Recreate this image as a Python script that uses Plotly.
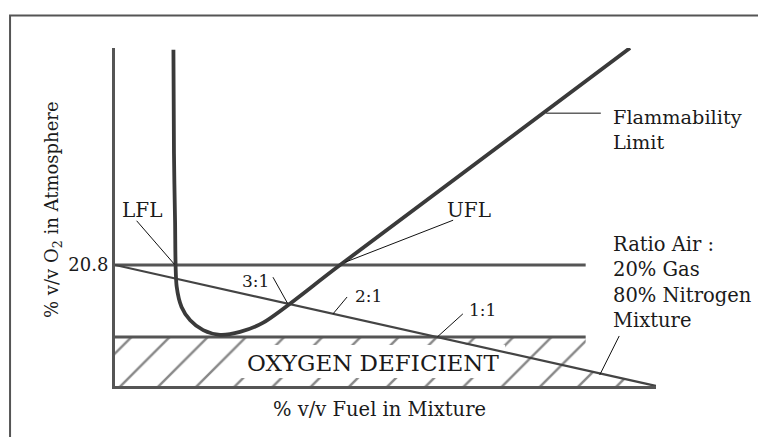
import plotly.graph_objects as go

# ---- data (schematic values) ----
O2_AIR = 20.8            # % O2 in air (horizontal line)
O2_DEFICIENT = 8.42      # top of oxygen deficient zone
FUEL_MAX = 100           # end of dilution line
LINE_END = 87            # end of horizontal lines

# Flammability limit curve (LFL branch -> nose -> UFL branch)
flam_x = [10.8, 10.9, 11.1, 11.4, 12.3, 13.9, 16.3, 19.4, 23.1, 27.4, 41.6, 95.2]
flam_y = [57.8, 40.0, 28.5, 17.1, 13.6, 11.3, 9.6, 8.8, 9.3, 10.9, 20.8, 58.1]

# air / (20% gas + 80% N2) dilution line
dil_x = [0, FUEL_MAX]
dil_y = [O2_AIR, 0]

# hatched oxygen-deficient region
hatch_x = [0, LINE_END, LINE_END, FUEL_MAX, 0, 0]
hatch_y = [O2_DEFICIENT, O2_DEFICIENT, O2_AIR * (1 - LINE_END / FUEL_MAX), 0, 0, O2_DEFICIENT]

y_ticks = [20.8]
y_ticktext = ["20.8"]

# leader lines: (x0, y0, x1, y1)
leaders = [
    (4.0, 28.4, 11.0, 20.9),     # LFL
    (62.5, 28.5, 42.6, 21.3),    # UFL
    (79.7, 46.9, 89.8, 46.9),    # Flammability limit
    (29.2, 18.7, 31.9, 14.2),    # 3:1
    (42.9, 15.3, 40.3, 12.4),    # 2:1
    (64.3, 12.4, 59.6, 8.45),    # 1:1
    (93.2, 8.6, 89.6, 1.9),      # Mixture
]

FONT = "DejaVu Serif"
fig = go.Figure()

# hatched zone
fig.add_trace(go.Scatter(
    x=hatch_x, y=hatch_y, mode="lines", fill="toself",
    line=dict(width=0), fillcolor="white",
    fillpattern=dict(shape="/", fgcolor="#111", bgcolor="white", size=27, solidity=0.09),
    hoverinfo="skip", showlegend=False))
# white label box (leaves only short hatch ticks)
fig.add_trace(go.Scatter(
    x=[23.1, 72.1, 72.1, 23.1, 23.1], y=[1.38, 1.38, 7.05, 7.05, 1.38],
    mode="lines", fill="toself", fillcolor="white", line=dict(width=0),
    hoverinfo="skip", showlegend=False))

# horizontal lines
fig.add_trace(go.Scatter(x=[0, LINE_END], y=[O2_AIR, O2_AIR], mode="lines",
                         line=dict(color="#555", width=3), showlegend=False, hoverinfo="skip"))
fig.add_trace(go.Scatter(x=[0, LINE_END], y=[O2_DEFICIENT, O2_DEFICIENT], mode="lines",
                         line=dict(color="#555", width=3), showlegend=False, hoverinfo="skip"))
# dilution line
fig.add_trace(go.Scatter(x=dil_x, y=dil_y, mode="lines",
                         line=dict(color="#444", width=2.2), showlegend=False, hoverinfo="skip"))
# flammability curve
fig.add_trace(go.Scatter(x=flam_x, y=flam_y, mode="lines",
                         line=dict(color="#3a3a3a", width=3.8, shape="spline", smoothing=0.8),
                         showlegend=False, hoverinfo="skip"))
# leaders
for x0, y0, x1, y1 in leaders:
    fig.add_trace(go.Scatter(x=[x0, x1], y=[y0, y1], mode="lines",
                             line=dict(color="#111", width=1), showlegend=False, hoverinfo="skip"))

def txt(x, y, s, size=18, xanchor="center", yanchor="middle", align="left", angle=0, ref="x"):
    fig.add_annotation(x=x, y=y, xref=ref, yref=("y" if ref == "x" else "paper"), text=s,
                       showarrow=False, xanchor=xanchor, yanchor=yanchor, align=align,
                       textangle=angle, font=dict(family=FONT, size=size, color="#1a1a1a"))

txt(0.9, 30.3, "LFL", 20, xanchor="left")
txt(65.4, 30.25, "UFL", 20)
txt(91.7, 48.4, "Flammability<br>Limit", 19.3, xanchor="left", yanchor="top")
txt(91.7, 26.6, "Ratio Air :<br>20% Gas<br>80% Nitrogen<br>Mixture", 19.5, xanchor="left", yanchor="top")
txt(25.9, 18.05, "3:1", 17)
txt(46.9, 15.5, "2:1", 17)
txt(68.0, 13.07, "1:1", 17)
txt(47.6, 3.95, "OXYGEN DEFICIENT", 23)
txt(0.488, -0.071, "% v/v Fuel in Mixture", 19.5, ref="paper")
txt(-0.1146, 0.5207, "% v/v O<sub>2</sub> in Atmosphere", 18, angle=-90, ref="paper")

# outer frame
fig.add_shape(type="rect", xref="paper", yref="paper",
              x0=-0.194, x1=1.25, y0=-0.2, y1=1.0962,
              line=dict(color="#555", width=2), fillcolor="rgba(0,0,0,0)", layer="below")

# page body has an 8px margin: figure occupies 758x429 starting at (8, 8)
fig.update_layout(
    width=758, height=429, autosize=False,
    margin=dict(l=107, r=110, t=40, b=51),
    paper_bgcolor="white", plot_bgcolor="white",
    xaxis=dict(range=[0, 100], showline=True, linewidth=3, linecolor="#555",
               showgrid=False, zeroline=False, showticklabels=False, ticks=""),
    yaxis=dict(range=[0, 58.1], showline=True, linewidth=3, linecolor="#555",
               showgrid=False, zeroline=False, tickvals=y_ticks, ticktext=y_ticktext,
               ticks="", tickfont=dict(family=FONT, size=18, color="#1a1a1a")),
    showlegend=False,
)

fig.write_html("out.html")
